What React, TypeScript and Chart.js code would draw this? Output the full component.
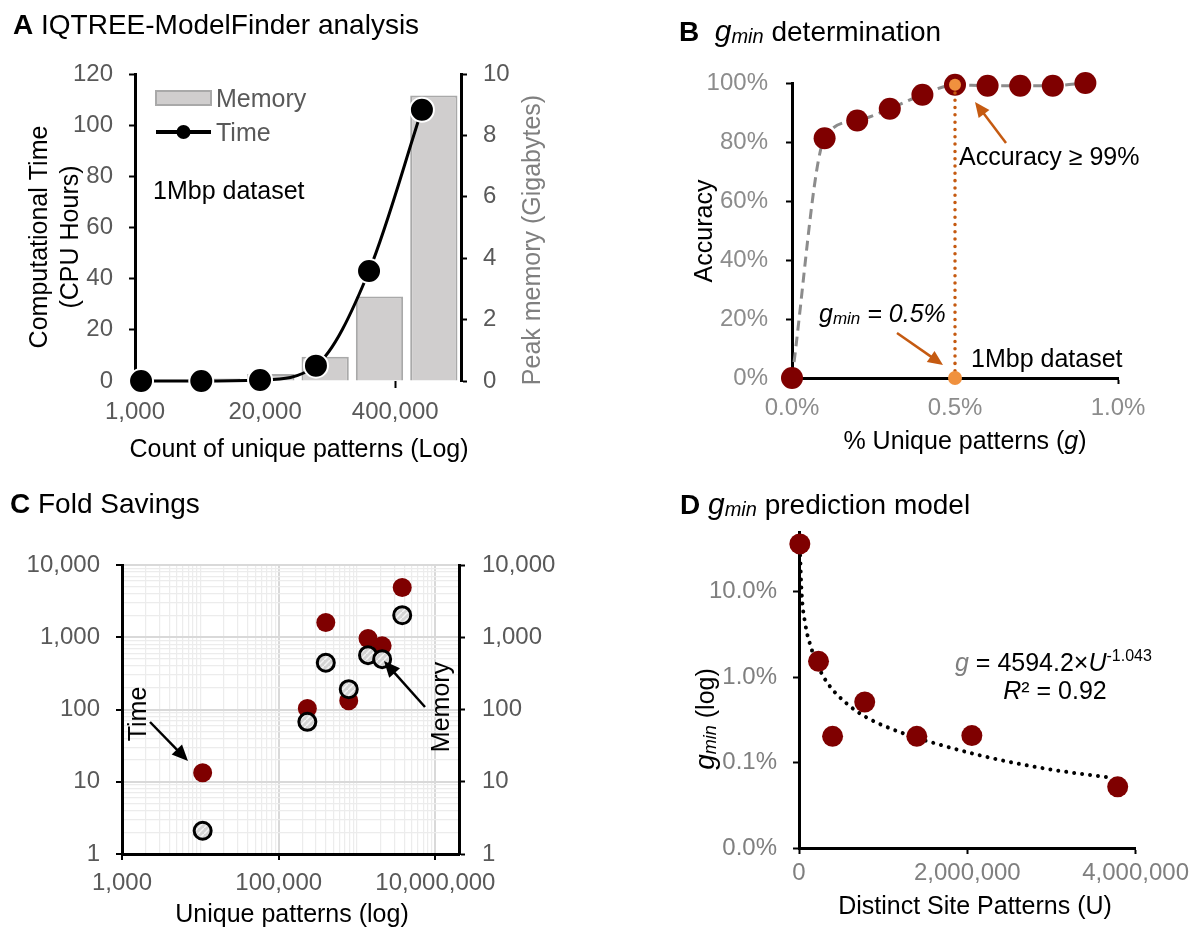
import { useEffect, useRef } from 'react';
import { Chart, registerables } from 'chart.js';

Chart.register(...registerables);

const FONT = "'Liberation Sans', Arial, Helvetica, sans-serif";
Chart.defaults.font.family = FONT;

const W = 1194;
const H = 927;
const TICK = 24;
const LABEL = 25;
const HEAD = 28;
const DARK_RED = '#7f0000';

// ---------- Panel A: IQTREE-ModelFinder analysis ----------
const A_BINS = ['b1', 'b2', 'b3', 'b4', 'b5', 'b6'];
const A_MEMORY_GB = [0.04, 0.08, 0.23, 0.79, 2.75, 9.3];
const A_PATTERNS = [1150, 4600, 17800, 64500, 219000, 740000];
const A_TIME_HOURS = [0, 0, 0.4, 6, 43, 106];
const A_X_TICKS = [1000, 20000, 400000];

// ---------- Panel B: gmin determination ----------
const B_G_PCT = [0, 0.1, 0.2, 0.3, 0.4, 0.5, 0.6, 0.7, 0.8, 0.9];
const B_ACCURACY = [0, 81.3, 87.3, 91.3, 96.0, 99.4, 99.1, 99.1, 99.1, 100];
const B_GMIN = 0.5;
const B_GMIN_ACC = 99.4;

// ---------- Panel C: Fold savings ----------
const C_PATTERNS = [10700, 232000, 399000, 783000, 1380000, 2090000, 3770000];
const C_TIME_FOLD = [13.3, 103, 1600, 132, 962, 760, 4880];
const C_MEMORY_FOLD = [2.1, 67.5, 443, 191, 565, 498, 2020];
const C_X_DECADES = [1e3, 1e4, 1e5, 1e6, 1e7];
const C_X_LABELS = [1e3, 1e5, 1e7];
const C_Y_DECADES = [1, 10, 100, 1000, 10000];

// ---------- Panel D: gmin prediction model ----------
const D_U = [10000, 232000, 399000, 781000, 1400000, 2054000, 3787000];
const D_GMIN_PCT = [36.3, 1.53, 0.203, 0.512, 0.203, 0.207, 0.052];
const D_TREND_U = [10000, 29600, 74600, 142000, 232000, 343000, 568000, 793000, 1243000, 1692000, 2142000, 2592000, 3041000, 3716000];
const D_TREND_G = [33, 10.3, 4.2, 2.25, 1.31, 0.84, 0.49, 0.342, 0.219, 0.16, 0.122, 0.0976, 0.0815, 0.0663];
const D_Y_TICKS = [0.01, 0.1, 1, 10];

// ---------- drawing helpers ----------
type Seg = { t: string; it?: boolean; b?: boolean; s?: number; c?: string; dy?: number };

function rich(
  ctx: CanvasRenderingContext2D,
  segs: Seg[],
  x: number,
  y: number,
  size: number,
  opts: { color?: string; align?: 'left' | 'center'; rot?: number } = {}
) {
  const { color = '#000', align = 'left', rot = 0 } = opts;
  ctx.save();
  ctx.translate(x, y);
  if (rot) ctx.rotate(rot);
  ctx.textBaseline = 'alphabetic';
  ctx.textAlign = 'left';
  const fonts = segs.map((s) => `${s.it ? 'italic ' : ''}${s.b ? 'bold ' : ''}${s.s ?? size}px ${FONT}`);
  const widths = segs.map((s, i) => {
    ctx.font = fonts[i];
    return ctx.measureText(s.t).width;
  });
  const total = widths.reduce((a, b) => a + b, 0);
  let cx = align === 'center' ? -total / 2 : 0;
  const base = size * 0.35;
  segs.forEach((s, i) => {
    ctx.font = fonts[i];
    ctx.fillStyle = s.c ?? color;
    ctx.fillText(s.t, cx, base + (s.dy ?? 0));
    cx += widths[i];
  });
  ctx.restore();
}

function arrow(ctx: CanvasRenderingContext2D, x1: number, y1: number, x2: number, y2: number, color: string, head = 15) {
  const a = Math.atan2(y2 - y1, x2 - x1);
  const c = Math.cos(a);
  const s = Math.sin(a);
  ctx.save();
  ctx.strokeStyle = color;
  ctx.fillStyle = color;
  ctx.lineWidth = 2.5;
  ctx.beginPath();
  ctx.moveTo(x1, y1);
  ctx.lineTo(x2 - c * head * 0.8, y2 - s * head * 0.8);
  ctx.stroke();
  const hw = head * 0.45;
  ctx.beginPath();
  ctx.moveTo(x2, y2);
  ctx.lineTo(x2 - c * head + s * hw, y2 - s * head - c * hw);
  ctx.lineTo(x2 - c * head - s * hw, y2 - s * head + c * hw);
  ctx.closePath();
  ctx.fill();
  ctx.restore();
}

function logTicks(decades: number[], max: number) {
  const out: { value: number }[] = [];
  decades.forEach((d) => {
    for (let k = 1; k <= 9; k++) {
      const v = d * k;
      if (v <= max * 1.0000001) out.push({ value: v });
    }
  });
  return out;
}

function isPow10(v: number) {
  const l = Math.log10(v);
  return Math.abs(l - Math.round(l)) < 1e-9;
}

const fmt = (v: number) => Number(v).toLocaleString('en-US');

const baseOptions = (padding: any) => ({
  responsive: false,
  animation: false,
  events: [],
  layout: { padding },
  plugins: { legend: { display: false }, tooltip: { enabled: false }, title: { display: false } },
});

const axisGridOff = (tickLength = 6) => ({
  drawOnChartArea: false,
  drawTicks: true,
  tickLength,
  tickColor: '#000',
  tickWidth: 2,
});

const YW = 120;

// ---------- Panel A config ----------
function configA(): any {
  return {
    type: 'bar',
    data: {
      labels: A_BINS,
      datasets: [
        {
          type: 'line',
          label: 'Time',
          xAxisID: 'xLog',
          yAxisID: 'y',
          data: A_PATTERNS.map((x, i) => ({ x, y: A_TIME_HOURS[i] })),
          borderColor: '#000',
          borderWidth: 3,
          cubicInterpolationMode: 'monotone',
          pointRadius: 12,
          pointBackgroundColor: '#000',
          pointBorderColor: '#fff',
          pointBorderWidth: 2,
          clip: false,
        },
        {
          type: 'bar',
          label: 'Memory',
          xAxisID: 'x',
          yAxisID: 'y2',
          data: A_MEMORY_GB,
          backgroundColor: '#d0cece',
          borderColor: '#a9a9a9',
          borderWidth: 2,
          grouped: false,
          barPercentage: 0.87,
          categoryPercentage: 1,
        },
      ],
    },
    options: {
      ...baseOptions({ left: 135 - YW, right: W - 461 - 80, top: 74, bottom: H - 381 - 50 }),
      scales: {
        x: { type: 'category', display: false },
        xLog: {
          type: 'logarithmic',
          position: 'bottom',
          offset: false,
          min: 1000,
          max: 1820000,
          afterBuildTicks: (s: any) => {
            s.ticks = A_X_TICKS.map((v) => ({ value: v }));
          },
          afterFit: (s: any) => {
            s.height = 50;
          },
          ticks: { callback: (v: any) => fmt(v), color: '#595959', font: { size: TICK }, padding: 10, autoSkip: false, maxRotation: 0 },
          grid: { ...axisGridOff(7), offset: false },
          border: { display: false },
        },
        y: {
          type: 'linear',
          position: 'left',
          min: 0,
          max: 120,
          ticks: { stepSize: 20, color: '#595959', font: { size: TICK }, padding: 16 },
          grid: axisGridOff(6),
          border: { color: '#000', width: 3 },
          afterFit: (s: any) => {
            s.width = YW;
          },
        },
        y2: {
          type: 'linear',
          position: 'right',
          min: 0,
          max: 10,
          ticks: { stepSize: 2, color: '#595959', font: { size: TICK }, padding: 16 },
          grid: axisGridOff(6),
          border: { color: '#000', width: 3 },
          afterFit: (s: any) => {
            s.width = 80;
          },
        },
      },
    },
    plugins: [
      {
        id: 'annotA',
        afterDraw(chart: any) {
          const ctx = chart.ctx as CanvasRenderingContext2D;
          rich(ctx, [{ t: 'A', b: true }, { t: ' IQTREE-ModelFinder analysis' }], 13, 24, HEAD);
          rich(ctx, [{ t: 'Computational Time' }], 38, 237, LABEL, { align: 'center', rot: -Math.PI / 2 });
          rich(ctx, [{ t: '(CPU Hours)' }], 69, 237, LABEL, { align: 'center', rot: -Math.PI / 2 });
          rich(ctx, [{ t: 'Peak memory (Gigabytes)' }], 531, 240, LABEL, { align: 'center', rot: -Math.PI / 2, color: '#7f7f7f' });
          rich(ctx, [{ t: 'Count of unique patterns (Log)' }], 299, 448, LABEL, { align: 'center' });
          // legend
          ctx.save();
          ctx.fillStyle = '#d0cece';
          ctx.strokeStyle = '#a9a9a9';
          ctx.lineWidth = 2;
          ctx.fillRect(156, 91, 55, 14);
          ctx.strokeRect(156, 91, 55, 14);
          ctx.strokeStyle = '#000';
          ctx.lineWidth = 4;
          ctx.beginPath();
          ctx.moveTo(156, 132);
          ctx.lineTo(211, 132);
          ctx.stroke();
          ctx.fillStyle = '#000';
          ctx.beginPath();
          ctx.arc(183.5, 132, 7, 0, Math.PI * 2);
          ctx.fill();
          ctx.restore();
          rich(ctx, [{ t: 'Memory' }], 216, 98, LABEL, { color: '#595959' });
          rich(ctx, [{ t: 'Time' }], 216, 132, LABEL, { color: '#595959' });
          rich(ctx, [{ t: '1Mbp dataset' }], 153, 190, LABEL);
        },
      },
    ],
  };
}

// ---------- Panel B config ----------
function configB(): any {
  return {
    type: 'line',
    data: {
      datasets: [
        {
          label: 'gmin',
          data: [
            { x: B_GMIN, y: 0 },
            { x: B_GMIN, y: B_GMIN_ACC },
          ],
          borderColor: '#c55a11',
          borderWidth: 3.5,
          borderDash: [0.01, 7.3],
          borderCapStyle: 'round',
          pointRadius: [7, 6],
          pointBackgroundColor: '#f0913e',
          pointBorderWidth: 0,
          tension: 0,
          clip: false,
        },
        {
          label: 'Accuracy',
          data: B_G_PCT.map((x, i) => ({ x, y: B_ACCURACY[i] })),
          borderColor: '#8c8c8c',
          borderWidth: 3,
          borderDash: [10, 6],
          cubicInterpolationMode: 'monotone',
          pointRadius: 11,
          pointBackgroundColor: DARK_RED,
          pointBorderWidth: 0,
          clip: false,
        },
      ],
    },
    options: {
      ...baseOptions({ left: 792 - YW, right: W - 1118, top: 83, bottom: H - 378 - 50 }),
      scales: {
        x: {
          type: 'linear',
          min: 0,
          max: 1,
          ticks: { stepSize: 0.5, callback: (v: any) => Number(v).toFixed(1) + '%', color: '#8c8c8c', font: { size: TICK }, padding: 10, maxRotation: 0 },
          grid: axisGridOff(6),
          border: { color: '#000', width: 3 },
          afterFit: (s: any) => {
            s.height = 50;
          },
        },
        y: {
          type: 'linear',
          min: 0,
          max: 100,
          ticks: { stepSize: 20, callback: (v: any) => v + '%', color: '#8c8c8c', font: { size: TICK }, padding: 18 },
          grid: axisGridOff(6),
          border: { color: '#000', width: 3 },
          afterFit: (s: any) => {
            s.width = YW;
          },
        },
      },
    },
    plugins: [
      {
        id: 'annotB',
        afterDraw(chart: any) {
          const ctx = chart.ctx as CanvasRenderingContext2D;
          rich(
            ctx,
            [{ t: 'B', b: true }, { t: '  ' }, { t: 'g', it: true, s: 30 }, { t: 'min', it: true, s: 20, dy: 2 }, { t: ' determination' }],
            679,
            31,
            HEAD
          );
          rich(ctx, [{ t: 'Accuracy' }], 703, 231, LABEL, { align: 'center', rot: -Math.PI / 2 });
          rich(ctx, [{ t: '% Unique patterns (' }, { t: 'g', it: true }, { t: ')' }], 965, 440, LABEL, { align: 'center' });
          arrow(ctx, 1006, 143, 975, 102, '#c55a11');
          arrow(ctx, 897, 333, 943, 365, '#c55a11');
          rich(ctx, [{ t: 'Accuracy ≥ 99%' }], 959, 156, LABEL);
          rich(ctx, [{ t: 'g', it: true }, { t: 'min', it: true, s: 17, dy: 2 }, { t: ' = 0.5%', it: true }], 819, 313, LABEL);
          rich(ctx, [{ t: '1Mbp dataset' }], 971, 358, LABEL);
        },
      },
    ],
  };
}

// ---------- Panel C config ----------
function hatch(): CanvasPattern | string {
  const c = document.createElement('canvas');
  c.width = 6;
  c.height = 6;
  const g = c.getContext('2d');
  if (!g) return '#d9d9d9';
  g.fillStyle = '#d4d4d4';
  g.fillRect(0, 0, 6, 6);
  g.strokeStyle = '#f4f4f4';
  g.lineWidth = 1.5;
  g.beginPath();
  g.moveTo(0, 6);
  g.lineTo(6, 0);
  g.stroke();
  const p = g.createPattern(c, 'repeat');
  return p ?? '#d9d9d9';
}

function configC(): any {
  const yTicks = logTicks(C_Y_DECADES, 10000);
  const xTicks = logTicks(C_X_DECADES, 2e7);
  return {
    type: 'scatter',
    data: {
      datasets: [
        {
          label: 'Memory',
          data: C_PATTERNS.map((x, i) => ({ x, y: C_MEMORY_FOLD[i] })),
          pointRadius: 8.5,
          pointBackgroundColor: hatch(),
          pointBorderColor: '#000',
          pointBorderWidth: 3,
          clip: false,
        },
        {
          label: 'Time',
          data: C_PATTERNS.map((x, i) => ({ x, y: C_TIME_FOLD[i] })),
          pointRadius: 9.5,
          pointBackgroundColor: DARK_RED,
          pointBorderWidth: 0,
          clip: false,
        },
      ],
    },
    options: {
      ...baseOptions({ left: 122 - YW, right: W - 459 - YW, top: 565, bottom: H - 854 - 50 }),
      scales: {
        x: {
          type: 'logarithmic',
          position: 'bottom',
          min: 1000,
          max: 2e7,
          afterBuildTicks: (s: any) => {
            s.ticks = xTicks.map((t) => ({ ...t }));
          },
          afterFit: (s: any) => {
            s.height = 50;
          },
          ticks: {
            callback: (v: any) => (C_X_LABELS.includes(Number(v)) ? fmt(v) : ''),
            color: '#595959',
            font: { size: TICK },
            padding: 9,
            autoSkip: false,
            maxRotation: 0,
          },
          grid: {
            drawOnChartArea: true,
            drawTicks: true,
            tickLength: 6,
            color: (c: any) => (c.tick && C_X_LABELS.includes(c.tick.value) ? '#d9d9d9' : '#ececec'),
            lineWidth: (c: any) => (c.tick && C_X_LABELS.includes(c.tick.value) ? 2 : 1.2),
            tickColor: (c: any) => (c.tick && C_X_LABELS.includes(c.tick.value) ? '#000' : 'rgba(0,0,0,0)'),
            tickWidth: 2,
          },
          border: { color: '#000', width: 3 },
        },
        y: {
          type: 'logarithmic',
          position: 'left',
          min: 1,
          max: 10000,
          afterBuildTicks: (s: any) => {
            s.ticks = yTicks.map((t) => ({ ...t }));
          },
          afterFit: (s: any) => {
            s.width = YW;
          },
          ticks: { callback: (v: any) => (isPow10(Number(v)) ? fmt(v) : ''), color: '#595959', font: { size: TICK }, padding: 16, autoSkip: false },
          grid: {
            drawOnChartArea: true,
            drawTicks: true,
            tickLength: 6,
            color: (c: any) => (c.tick && isPow10(c.tick.value) ? '#d9d9d9' : '#ececec'),
            lineWidth: (c: any) => (c.tick && isPow10(c.tick.value) ? 2 : 1.2),
            tickColor: (c: any) => (c.tick && isPow10(c.tick.value) ? '#000' : 'rgba(0,0,0,0)'),
            tickWidth: 2,
          },
          border: { color: '#000', width: 3 },
        },
        y2: {
          type: 'logarithmic',
          position: 'right',
          min: 1,
          max: 10000,
          afterBuildTicks: (s: any) => {
            s.ticks = yTicks.map((t) => ({ ...t }));
          },
          afterFit: (s: any) => {
            s.width = YW;
          },
          ticks: { callback: (v: any) => (isPow10(Number(v)) ? fmt(v) : ''), color: '#595959', font: { size: TICK }, padding: 17, autoSkip: false },
          grid: {
            drawOnChartArea: false,
            drawTicks: true,
            tickLength: 6,
            tickColor: (c: any) => (c.tick && isPow10(c.tick.value) ? '#000' : 'rgba(0,0,0,0)'),
            tickWidth: 2,
          },
          border: { color: '#000', width: 3 },
        },
      },
    },
    plugins: [
      {
        id: 'annotC',
        afterDraw(chart: any) {
          const ctx = chart.ctx as CanvasRenderingContext2D;
          rich(ctx, [{ t: 'C', b: true }, { t: ' Fold Savings' }], 10, 503, HEAD);
          rich(ctx, [{ t: 'Unique patterns (log)' }], 292, 913, LABEL, { align: 'center' });
          rich(ctx, [{ t: 'Time' }], 137, 714, LABEL, { align: 'center', rot: -Math.PI / 2 });
          rich(ctx, [{ t: 'Memory' }], 440, 707, LABEL, { align: 'center', rot: -Math.PI / 2 });
          arrow(ctx, 150, 722, 188, 761, '#000', 16);
          arrow(ctx, 425, 707, 384, 661, '#000', 16);
        },
      },
    ],
  };
}

// ---------- Panel D config ----------
function configD(): any {
  return {
    type: 'scatter',
    data: {
      datasets: [
        {
          label: 'gmin',
          data: D_U.map((x, i) => ({ x, y: D_GMIN_PCT[i] })),
          pointRadius: 10.5,
          pointBackgroundColor: DARK_RED,
          pointBorderWidth: 0,
          clip: false,
        },
        {
          label: 'Power trend',
          data: D_TREND_U.map((x, i) => ({ x, y: D_TREND_G[i] })),
          showLine: true,
          pointRadius: 0,
          borderColor: '#000',
          borderWidth: 4,
          borderDash: [0.01, 8],
          borderCapStyle: 'round',
          cubicInterpolationMode: 'monotone',
          clip: false,
        },
      ],
    },
    options: {
      ...baseOptions({ left: 799 - YW, right: W - 1137, top: 532, bottom: H - 848 - 50 }),
      scales: {
        x: {
          type: 'linear',
          min: 0,
          max: 4000000,
          ticks: { stepSize: 2000000, callback: (v: any) => fmt(v), color: '#7f7f7f', font: { size: TICK }, padding: 5, maxRotation: 0 },
          grid: axisGridOff(6),
          border: { color: '#000', width: 3 },
          afterFit: (s: any) => {
            s.height = 50;
          },
        },
        y: {
          type: 'logarithmic',
          min: 0.01,
          max: 50,
          afterBuildTicks: (s: any) => {
            s.ticks = D_Y_TICKS.map((v) => ({ value: v }));
          },
          ticks: { callback: (v: any) => Number(v).toFixed(1) + '%', color: '#7f7f7f', font: { size: TICK }, padding: 16, autoSkip: false },
          grid: axisGridOff(6),
          border: { color: '#000', width: 3 },
          afterFit: (s: any) => {
            s.width = YW;
          },
        },
      },
    },
    plugins: [
      {
        id: 'annotD',
        afterDraw(chart: any) {
          const ctx = chart.ctx as CanvasRenderingContext2D;
          rich(
            ctx,
            [{ t: 'D', b: true }, { t: ' ' }, { t: 'g', it: true, s: 30 }, { t: 'min', it: true, s: 20, dy: 2 }, { t: ' prediction model' }],
            680,
            504,
            HEAD
          );
          rich(
            ctx,
            [{ t: 'g', it: true, s: 28 }, { t: 'min', it: true, s: 18, dy: 2 }, { t: ' (log)' }],
            705,
            719,
            LABEL,
            { align: 'center', rot: -Math.PI / 2 }
          );
          rich(ctx, [{ t: 'Distinct Site Patterns (U)' }], 975, 905, LABEL, { align: 'center' });
          rich(
            ctx,
            [{ t: 'g', it: true, c: '#7f7f7f' }, { t: ' = 4594.2×' }, { t: 'U', it: true }, { t: '-1.043', s: 16, dy: -10 }],
            955,
            662,
            LABEL
          );
          rich(ctx, [{ t: 'R', it: true }, { t: '² = 0.92' }], 1055, 690, LABEL, { align: 'center' });
        },
      },
    ],
  };
}

function ChartCanvas({ make }: { make: () => any }) {
  const ref = useRef<HTMLCanvasElement>(null);
  useEffect(() => {
    if (!ref.current) return;
    const chart = new Chart(ref.current, make());
    return () => chart.destroy();
  }, [make]);
  return (
    <canvas
      ref={ref}
      width={W}
      height={H}
      style={{ position: 'absolute', left: 0, top: 0, width: W, height: H }}
    />
  );
}

export default function App() {
  return (
    <div style={{ position: 'absolute', left: 0, top: 0, width: W, height: H, background: '#fff', overflow: 'hidden' }}>
      <ChartCanvas make={configA} />
      <ChartCanvas make={configB} />
      <ChartCanvas make={configC} />
      <ChartCanvas make={configD} />
    </div>
  );
}
